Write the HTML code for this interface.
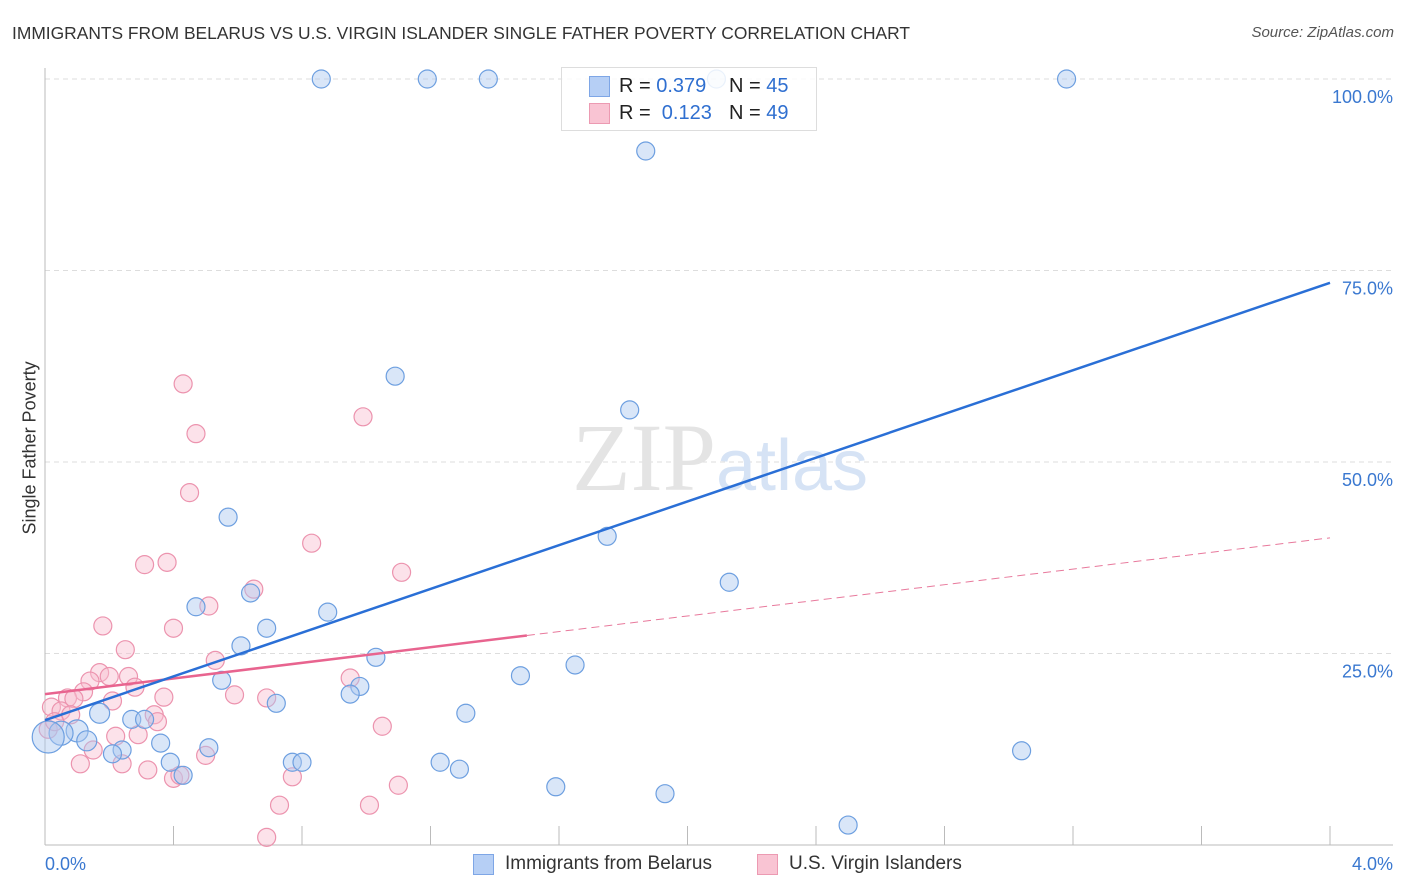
<!DOCTYPE html>
<html><head><meta charset="utf-8"><style>
body{margin:0;background:#fff;font-family:"Liberation Sans",sans-serif;}
#wrap{position:relative;width:1406px;height:892px;overflow:hidden;}
.t{position:absolute;white-space:nowrap;}
</style></head><body>
<div id="wrap">
<div class="t" style="left:12px;top:23px;font-size:17.4px;color:#333;">IMMIGRANTS FROM BELARUS VS U.S. VIRGIN ISLANDER SINGLE FATHER POVERTY CORRELATION CHART</div>
<div class="t" style="right:12px;top:24px;font-size:15px;color:#555;font-style:italic;">Source: ZipAtlas.com</div>
<div class="t" style="left:-50px;top:444px;font-size:18px;color:#333;transform:rotate(-90deg);width:160px;text-align:center;">Single Father Poverty</div>
<svg id="svg" width="1406" height="892" style="position:absolute;left:0;top:0"></svg>
<div style="position:absolute;left:561px;top:67px;width:254px;height:62px;border:1px solid #ddd;background:rgba(255,255,255,0.85);font-size:20px;">
 <div style="position:absolute;left:27px;top:8px;width:19px;height:19px;background:#b6cff5;border:1px solid #7ea6e6;"></div>
 <div class="t" style="left:57px;top:7px;color:#222;">R = <span style="color:#2f6fd0">0.379</span></div>
 <div class="t" style="left:167px;top:7px;color:#222;">N = <span style="color:#2f6fd0">45</span></div>
 <div style="position:absolute;left:27px;top:35px;width:19px;height:19px;background:#f9c4d3;border:1px solid #ec9ab2;"></div>
 <div class="t" style="left:57px;top:34px;color:#222;">R = &nbsp;<span style="color:#2f6fd0">0.123</span></div>
 <div class="t" style="left:167px;top:34px;color:#222;">N = <span style="color:#2f6fd0">49</span></div>
</div>
<div style="position:absolute;left:473px;top:854px;width:19px;height:19px;background:#b6cff5;border:1px solid #7ea6e6;"></div>
<div class="t" style="left:505px;top:853px;font-size:19px;color:#333;">Immigrants from Belarus</div>
<div style="position:absolute;left:757px;top:854px;width:19px;height:19px;background:#f9c4d3;border:1px solid #ec9ab2;"></div>
<div class="t" style="left:789px;top:853px;font-size:19px;color:#333;">U.S. Virgin Islanders</div>
</div>
<script>
const xTicks=[0,0.4,0.8,1.2,1.6,2.0,2.4,2.8,3.2,3.6,4.0];
const yTicks=[25,50,75,100];
const yTickLabels=["25.0%","50.0%","75.0%","100.0%"];
const blueX=[0.86,1.19,1.38,2.09,3.18,1.87,1.09,1.82,0.57,1.75,2.13,0.64,0.47,0.88,0.69,0.61,1.03,1.65,1.48,0.55,0.98,0.95,0.72,0.17,1.31,0.27,0.31,0.10,0.05,0.01,0.13,0.36,0.24,0.21,0.51,3.04,0.39,0.77,0.80,1.23,1.29,0.43,1.59,1.93,2.50];
const blueY=[100,100,100,100,100,90.6,61.2,56.8,42.8,40.3,34.3,32.9,31.1,30.4,28.3,26.0,24.5,23.5,22.1,21.5,20.7,19.7,18.5,17.2,17.2,16.4,16.4,14.9,14.6,14.1,13.6,13.3,12.4,11.9,12.7,12.3,10.8,10.8,10.8,10.8,9.9,9.1,7.6,6.7,2.6];
const blueR=[9,9,9,9,9,9,9,9,9,9,9,9,9,9,9,9,9,9,9,9,9,9,9,10,9,9,9,11,12,16,10,9,9,9,9,9,9,9,9,9,9,9,9,9,9];
const pinkX=[0.43,0.99,0.47,0.45,0.83,0.31,0.38,1.11,0.65,0.51,0.18,0.40,0.25,0.53,0.95,0.17,0.20,0.26,0.14,0.28,0.12,0.07,0.37,0.59,0.69,0.09,0.21,0.02,0.05,0.08,0.34,0.35,1.05,0.22,0.29,0.01,0.03,0.15,0.50,0.11,0.24,0.32,0.77,0.40,0.42,1.10,0.73,1.01,0.69];
const pinkY=[60.2,55.9,53.7,46.0,39.4,36.6,36.9,35.6,33.4,31.2,28.6,28.3,25.5,24.1,21.8,22.5,22.0,22.0,21.4,20.6,20.0,19.2,19.3,19.6,19.2,19.1,18.8,18.0,17.5,17.0,17.0,16.1,15.5,14.2,14.4,15.1,16.1,12.4,11.7,10.6,10.6,9.8,8.9,8.7,9.1,7.8,5.2,5.2,1.0];
const blueTrend=[16.3,73.4];
const pinkTrend=[19.7,40.1];
const pinkSolidEnd=1.5;
const svg=document.getElementById('svg');
const NS='http://www.w3.org/2000/svg';
const X=v=>45+v/4*1285, Y=v=>845-v/100*766;
function mk(tag,attrs){const e=document.createElementNS(NS,tag);for(const k in attrs)e.setAttribute(k,attrs[k]);svg.appendChild(e);return e;}
yTicks.forEach((t,i)=>{
 const g=mk('line',{x1:45,x2:1393,y1:Y(t),y2:Y(t),stroke:'#ddd','stroke-dasharray':'5,4'});
 
 
 const l=mk('text',{x:1393,y:Y(t)+24,'text-anchor':'end','font-size':18,fill:'#3a78d0','font-family':'Liberation Sans'});
 l.textContent=yTickLabels[i];
 
 
});
const ax=mk('line',{x1:45,x2:45,y1:68,y2:845,stroke:'#bbb'});


const bx=mk('line',{x1:45,x2:1393,y1:845,y2:845,stroke:'#bbb'});


xTicks.forEach((t,i)=>{if(i==0)return;
 const tk=mk('line',{x1:X(t),x2:X(t),y1:826,y2:845,stroke:'#bbb'});
 
 
});
const xl0=mk('text',{x:45,y:870,'font-size':18,fill:'#3a78d0','font-family':'Liberation Sans'});xl0.textContent=xTicks[0].toFixed(1)+'%';


const xl1=mk('text',{x:1393,y:870,'text-anchor':'end','font-size':18,fill:'#3a78d0','font-family':'Liberation Sans'});xl1.textContent=xTicks[10].toFixed(1)+'%';


const wm=mk('text',{x:720,y:490,'text-anchor':'middle','font-size':96,fill:'#e4e4e4','font-family':'Liberation Serif'});
wm.innerHTML='ZIP<tspan fill="#d6e3f5" font-family="Liberation Sans" font-size="72">atlas</tspan>';


pinkX.forEach((v,i)=>{const c=mk('circle',{cx:X(v),cy:Y(pinkY[i]),r:9,fill:'rgba(249,190,208,0.45)',stroke:'#ec93ae','stroke-width':1.2});
 
 });
blueX.forEach((v,i)=>{const c=mk('circle',{cx:X(v),cy:Y(blueY[i]),r:blueR[i],fill:'rgba(170,200,240,0.45)',stroke:'#6d9fe0','stroke-width':1.2});
 
 });
const pt=v=>pinkTrend[0]+(pinkTrend[1]-pinkTrend[0])*v/4;
const pd=mk('line',{x1:X(pinkSolidEnd),y1:Y(pt(pinkSolidEnd)),x2:X(4),y2:Y(pt(4)),stroke:'#e8799c','stroke-width':1,'stroke-dasharray':'8,5'});


const ps=mk('line',{x1:X(0),y1:Y(pt(0)),x2:X(pinkSolidEnd),y2:Y(pt(pinkSolidEnd)),stroke:'#e8648f','stroke-width':2.5});


const bl=mk('line',{x1:X(0),y1:Y(blueTrend[0]),x2:X(4),y2:Y(blueTrend[1]),stroke:'#2a6fd6','stroke-width':2.5});


</script>
</body></html>
